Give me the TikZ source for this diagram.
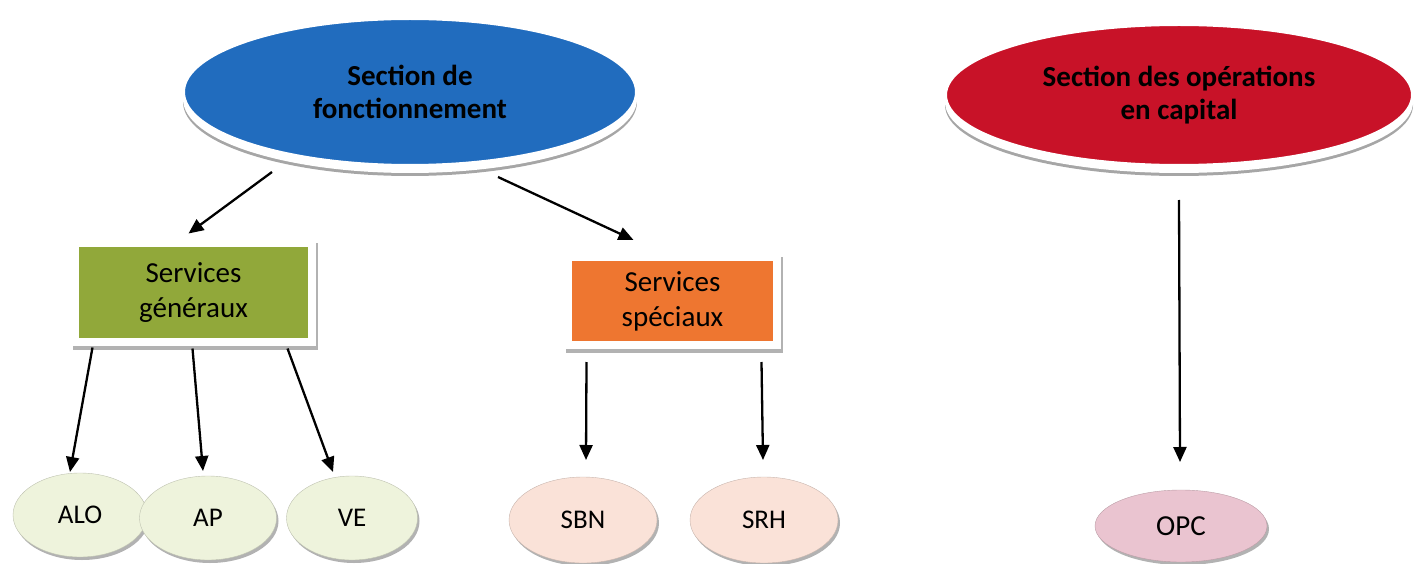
\documentclass[tikz,border=0pt]{standalone}
\usepackage{fontspec}
\setmainfont{Carlito}
\usetikzlibrary{arrows.meta,calc,shapes.geometric}
\definecolor{cblue}{RGB}{33,108,190}
\definecolor{cred}{RGB}{200,18,40}
\definecolor{cgreen}{RGB}{145,168,58}
\definecolor{corange}{RGB}{238,118,48}
\definecolor{lgreen}{RGB}{238,243,220}
\definecolor{lpeach}{RGB}{250,226,216}
\definecolor{lpink}{RGB}{234,196,208}
\tikzset{
  bigell/.style={ellipse, inner sep=0pt, draw=white, line width=2pt,
    font=\fontsize{29}{33}\selectfont\bfseries, align=center,
    preaction={fill=black!35, draw=black!35, line width=2pt, transform canvas={yshift=-10pt}},
    preaction={fill=white, draw=white, line width=2pt, transform canvas={yshift=-7pt}}},
  svcbox/.style={rectangle, inner sep=0pt, draw=white, line width=8pt,
    font=\fontsize{29}{35}\selectfont, align=center,
    preaction={fill=black!30, draw=black!30, line width=8pt, transform canvas={xshift=2pt,yshift=-4pt}}},
  smell/.style={ellipse, inner sep=0pt, minimum height=84pt,
    font=\fontsize{27}{30}\selectfont,
    preaction={fill=black!30, transform canvas={xshift=2pt,yshift=-3pt}}},
  arr/.style={line width=2.3pt, -{Triangle[length=15pt,width=13pt]}}
}
\begin{document}
\begin{tikzpicture}[x=1pt,y=-1pt]
\useasboundingbox (0,0) rectangle (1415,564);
% top ellipses
\node[bigell, fill=cblue, minimum width=452pt, minimum height=146pt] (fonc) at (410,92) {Section de\\fonctionnement};
\node[bigell, fill=cred, minimum width=466pt, minimum height=140pt] (capi) at (1179,95) {Section des opérations\\en capital};
% service boxes
\node[svcbox, fill=cgreen, minimum width=237pt, minimum height=99pt] (gen) at (193.5,292.5) {Services\\généraux};
\node[svcbox, fill=corange, minimum width=209pt, minimum height=88pt] (spec) at (672.5,301) {Services\\spéciaux};
% leaf ellipses
\node[smell, fill=lgreen, draw=lgreen!80!black, minimum width=134pt] (alo) at (80,515) {ALO};
\node[smell, fill=lgreen, draw=lgreen!80!black, minimum width=137pt] (ap) at (208,518) {AP};
\node[smell, fill=lgreen, draw=lgreen!80!black, minimum width=131pt] (ve) at (352,518) {VE};
\node[smell, fill=lpeach, draw=lpeach!80!black, minimum width=148pt, minimum height=86pt] (sbn) at (583,520) {SBN};
\node[smell, fill=lpeach, draw=lpeach!80!black, minimum width=148pt, minimum height=86pt] (srh) at (764,520) {SRH};
\node[smell, fill=lpink, draw=lpink!80!black, minimum width=172pt, minimum height=72pt, font=\fontsize{29}{32}\selectfont] (opc) at (1181,526) {OPC};
% connectors
\draw[arr] ($(fonc.center)+(-138,80)$) -- ($(gen.center)+(-5,-59)$);
\draw[arr] ($(fonc.center)+(88,85)$) -- ($(spec.center)+(-39,-61)$);
\draw[arr] ($(gen.center)+(-101,55)$) -- ($(alo.center)+(-10,-43)$);
\draw[arr] ($(gen.center)+(-1,56)$) -- ($(ap.center)+(-5,-47)$);
\draw[arr] ($(gen.center)+(94,56)$) -- ($(ve.center)+(-19,-46)$);
\draw[arr] ($(spec.center)+(-86,61)$) -- ($(sbn.center)+(3,-60)$);
\draw[arr] ($(spec.center)+(89,61)$) -- ($(srh.center)+(-1,-60)$);
\draw[arr] ($(capi.center)+(0,105)$) -- ($(opc.center)+(-1,-64)$);
\end{tikzpicture}
\end{document}
